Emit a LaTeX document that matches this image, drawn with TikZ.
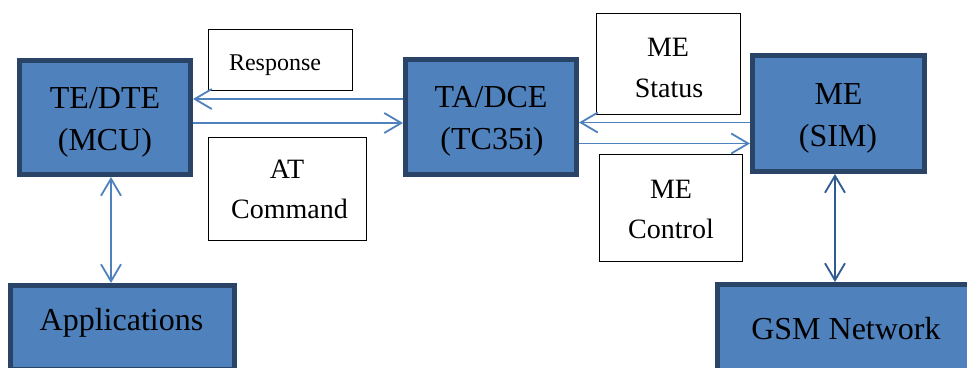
\documentclass[tikz,border=0pt]{standalone}
\usepackage{fontspec}
\setmainfont{Liberation Serif}
\usetikzlibrary{arrows.meta}
\definecolor{boxfill}{HTML}{4F81BD}
\definecolor{boxedge}{HTML}{2A4468}
\definecolor{linkblue}{HTML}{4F81BD}
\definecolor{linknavy}{HTML}{2F5A94}
\begin{document}
\begin{tikzpicture}[x=1pt,y=-1pt,
  >={Straight Barb[length=17pt,width=20pt]},
  unitbox/.style={rectangle, draw=boxedge, line width=5pt, fill=boxfill, inner sep=0pt},
  notebox/.style={rectangle, draw=black, line width=1.4pt, fill=white, inner sep=0pt},
  bigtext/.style={font=\fontsize{32}{38}\selectfont, anchor=base, inner sep=0pt},
  notetext/.style={font=\fontsize{28}{34}\selectfont, anchor=base, inner sep=0pt},
  smalltext/.style={font=\fontsize{24}{29}\selectfont, anchor=base, inner sep=0pt},
  link/.style={draw=linkblue, line width=1.8pt}]
\clip (0,0) rectangle (967,367);
\fill[white] (0,0) rectangle (967,367);

% main units
\node[unitbox, minimum width=171pt, minimum height=114pt] (te) at (105,117.5) {};
\node[unitbox, minimum width=171pt, minimum height=115pt] (ta) at (491,117) {};
\node[unitbox, minimum width=172pt, minimum height=116pt] (me) at (838.5,113.5) {};
\node[unitbox, minimum width=224pt, minimum height=84pt] (app) at (122.5,327.5) {};
\node[unitbox, minimum width=257pt, minimum height=87pt] (gsm) at (846,328) {};

% signal boxes
\node[notebox, minimum width=143.6pt, minimum height=60.6pt] (resp) at (280.5,60) {};
\node[notebox, minimum width=157.6pt, minimum height=102.6pt] (atcmd) at (287.5,189) {};
\node[notebox, minimum width=143.6pt, minimum height=100.6pt] (mestat) at (668.5,64) {};
\node[notebox, minimum width=142.6pt, minimum height=106.6pt] (mectl) at (671,208) {};

% labels
\node[bigtext] (te-a) at (105,108) {TE/DTE};
\node[bigtext] (te-b) at (105,150) {(MCU)};
\node[bigtext] (ta-a) at (491,107) {TA/DCE};
\node[bigtext] (ta-b) at (492,149) {(TC35i)};
\node[bigtext] (me-a) at (838.5,104) {ME};
\node[bigtext] (me-b) at (838,146) {(SIM)};
\node[bigtext] (app-a) at (121.5,330) {Applications};
\node[bigtext] (gsm-a) at (846,339) {GSM Network};
\node[smalltext] (resp-a) at (275,70) {Response};
\node[notetext] (at-a) at (287,178) {AT};
\node[notetext] (at-b) at (289.5,218) {Command};
\node[notetext] (ms-a) at (668,56) {ME};
\node[notetext] (ms-b) at (669,97) {Status};
\node[notetext] (mc-a) at (671,198) {ME};
\node[notetext] (mc-b) at (671,238) {Control};

% connectors
\coordinate (r1) at ([yshift=18pt]ta.west);
\coordinate (c1) at ([yshift=-5.5pt]te.east);
\coordinate (r2) at ([yshift=-9pt]me.west);
\coordinate (c2) at ([yshift=-30pt]me.west);
\coordinate (v1) at ([xshift=6pt]te.south);
\coordinate (v2) at ([xshift=-3.5pt]me.south);

\draw[link,->] (r1) -- (r1 -| te.east);
\draw[link,->] (c1) -- (c1 -| ta.west);
\draw[link,->] (r2) -- (r2 -| ta.east);
\draw[link,->] (c2 -| ta.east) -- (c2);
\draw[link,<->] (v1) -- (v1 |- app.north);
\draw[link,draw=linknavy,<->] (v2) -- (v2 |- gsm.north);
\end{tikzpicture}
\end{document}
